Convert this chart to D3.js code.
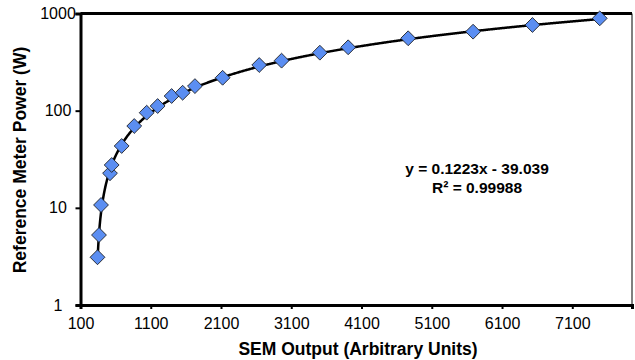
<!DOCTYPE html>
<html>
<head>
<meta charset="utf-8">
<script src="https://cdn.jsdelivr.net/npm/d3@7"></script>
<style>
  body { margin: 0; background: #fff; }
  text { font-family: "Liberation Sans", Arial, sans-serif; }
</style>
</head>
<body>
<div id="chart"></div>
<script>
// SEM output vs reference meter power
const semOutput = [342, 363, 392, 520, 544, 686, 865, 1042, 1198, 1397, 1554,
  1729, 2123, 2644, 2962, 3507, 3910, 4764, 5688, 6533, 7491];
const meterPower = [3.1, 5.25, 10.7, 22.7, 27.6, 43.3, 69.5, 95.3, 111.6, 141.5, 153,
  179, 218, 295, 327, 395, 449, 556, 650, 762, 892];
const xTicks = [100, 1100, 2100, 3100, 4100, 5100, 6100, 7100];
const yTicks = [1, 10, 100, 1000];
const fitSlope = 0.1223;
const fitIntercept = -39.039;
const fitLabels = ["y = 0.1223x - 39.039", "R\u00b2 = 0.99988"];

const width = 635, height = 360;
const margin = { top: 13.5, right: 3, bottom: 55, left: 80.5 };

const svg = d3.select("#chart")
  .append("svg")
  .attr("width", width)
  .attr("height", height);

const x = d3.scaleLinear()
  .domain([100, 7950])
  .range([margin.left, width - margin.right]);

const y = d3.scaleLog()
  .domain([1, 1000])
  .range([height - margin.bottom, margin.top]);

// plot frame: top thick, right thin
svg.append("line")
  .attr("x1", margin.left).attr("x2", width - margin.right)
  .attr("y1", margin.top).attr("y2", margin.top)
  .attr("stroke", "#000").attr("stroke-width", 3);
svg.append("line")
  .attr("x1", width - margin.right).attr("x2", width - margin.right)
  .attr("y1", margin.top).attr("y2", height - margin.bottom)
  .attr("stroke", "#000").attr("stroke-width", 1);

// axes
const xAxis = svg.append("g")
  .attr("transform", "translate(0," + (height - margin.bottom) + ")")
  .call(d3.axisBottom(x).tickValues(xTicks).tickSize(4).tickPadding(9).tickFormat(d3.format("d")));

const yAxis = svg.append("g")
  .attr("transform", "translate(" + margin.left + ",0)")
  .call(d3.axisLeft(y).tickValues(yTicks).tickSize(5).tickPadding(5).tickFormat(d3.format("d")));

[xAxis, yAxis].forEach(g => {
  g.select(".domain").attr("stroke-width", 3);
  g.selectAll(".tick line").attr("stroke-width", 2);
  g.selectAll(".tick text")
    .attr("font-size", 16)
    .attr("font-family", "Liberation Sans, Arial, sans-serif")
    .attr("fill", "#000");
});

// y labels sit centred in the gutter, as in the original
yAxis.selectAll(".tick text")
  .attr("text-anchor", "middle")
  .attr("x", 58 - margin.left);

// trend line from the fit equation
const fitX = d3.range(semOutput[0], d3.max(semOutput) + 1, 10);
const line = d3.line()
  .x(d => x(d))
  .y(d => y(fitSlope * d + fitIntercept));

svg.append("path")
  .datum(fitX)
  .attr("d", line)
  .attr("fill", "none")
  .attr("stroke", "#000")
  .attr("stroke-width", 2.5);

// diamonds
svg.selectAll(".pt")
  .data(semOutput)
  .enter()
  .append("path")
  .attr("class", "pt")
  .attr("d", d3.symbol().type(d3.symbolSquare).size(110))
  .attr("transform", (d, i) => "translate(" + x(d) + "," + y(meterPower[i]) + ") rotate(45)")
  .attr("fill", "#5b8ef2")
  .attr("stroke", "#1a1a1a")
  .attr("stroke-width", 0.8);

// equation labels
svg.selectAll(".fit")
  .data(fitLabels)
  .enter()
  .append("text")
  .attr("x", 477)
  .attr("y", (d, i) => 174 + i * 19)
  .attr("text-anchor", "middle")
  .attr("font-size", 15.5)
  .attr("font-weight", "bold")
  .text(d => d);

// axis titles
svg.append("text")
  .attr("x", 358)
  .attr("y", 355)
  .attr("text-anchor", "middle")
  .attr("font-size", 17.5)
  .attr("font-weight", "bold")
  .text("SEM Output (Arbitrary Units)");

svg.append("text")
  .attr("transform", "translate(26,160) rotate(-90)")
  .attr("text-anchor", "middle")
  .attr("font-size", 17.5)
  .attr("font-weight", "bold")
  .text("Reference Meter Power (W)");
</script>
</body>
</html>
